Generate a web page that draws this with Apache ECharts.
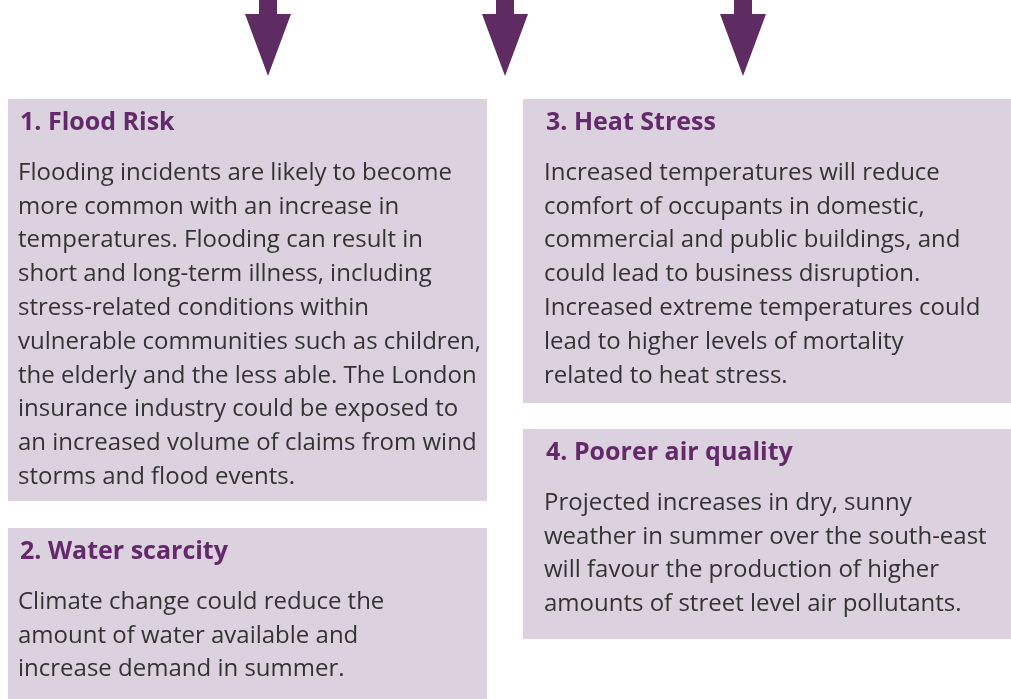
<!DOCTYPE html>
<html>
<head>
<meta charset="utf-8">
<script src="https://cdn.jsdelivr.net/npm/echarts@6/dist/echarts.min.js"></script>
<style>
  html, body { margin: 0; padding: 0; background: #fff; }
  #main { width: 1011px; height: 699px; }
</style>
</head>
<body>
<div id="main"></div>
<script>
// content of the four boxes
const titles = ["1. Flood Risk", "2. Water scarcity", "3. Heat Stress", "4. Poorer air quality"];
const bodies = [
  [
    "Flooding incidents are likely to become",
    "more common with an increase in",
    "temperatures. Flooding can result in",
    "short and long-term illness, including",
    "stress-related conditions within",
    "vulnerable communities such as children,",
    "the elderly and the less able. The London",
    "insurance industry could be exposed to",
    "an increased volume of claims from wind",
    "storms and flood events."
  ],
  [
    "Climate change could reduce the",
    "amount of water available and",
    "increase demand in summer."
  ],
  [
    "Increased temperatures will reduce",
    "comfort of occupants in domestic,",
    "commercial and public buildings, and",
    "could lead to business disruption.",
    "Increased extreme temperatures could",
    "lead to higher levels of mortality",
    "related to heat stress."
  ],
  [
    "Projected increases in dry, sunny",
    "weather in summer over the south-east",
    "will favour the production of higher",
    "amounts of street level air pollutants."
  ]
];

// layout (pixels)
const boxes = [
  { x: 8, y: 99, w: 479, h: 402, pad: 10 },
  { x: 8, y: 528, w: 479, h: 180, pad: 10 },
  { x: 523, y: 99, w: 500, h: 304, pad: 21 },
  { x: 523, y: 429, w: 500, h: 210, pad: 21 }
];
const arrowX = [268, 505, 743];

const purple = "#5e2c63";
const boxFill = "#dcd2df";
const fontFamily = "'Open Sans', Lato, sans-serif";
const lineGap = 33.8;

const elements = [];

arrowX.forEach((cx) => {
  elements.push({
    type: "polygon",
    shape: {
      points: [
        [cx - 9, -2], [cx + 9, -2], [cx + 9, 14],
        [cx + 23, 14], [cx, 76], [cx - 23, 14], [cx - 9, 14]
      ]
    },
    style: { fill: purple }
  });
});

boxes.forEach((b, i) => {
  elements.push({
    type: "rect",
    shape: { x: b.x, y: b.y, width: b.w, height: b.h },
    style: { fill: boxFill }
  });
  elements.push({
    type: "text",
    x: b.x + b.pad + 2,
    y: b.y + 24,
    style: {
      text: titles[i],
      font: "bold 25px " + fontFamily,
      fill: "#64296a",
      verticalAlign: "middle"
    }
  });
  bodies[i].forEach((line, j) => {
    elements.push({
      type: "text",
      x: b.x + b.pad,
      y: b.y + 74 + j * lineGap,
      style: {
        text: line,
        font: "24px " + fontFamily,
        fill: "#333333",
        verticalAlign: "middle"
      }
    });
  });
});

const chart = echarts.init(document.getElementById("main"));
chart.setOption({
  animation: false,
  graphic: { elements: elements }
});
window.addEventListener("resize", () => {
  chart.resize();
});
</script>
</body>
</html>
